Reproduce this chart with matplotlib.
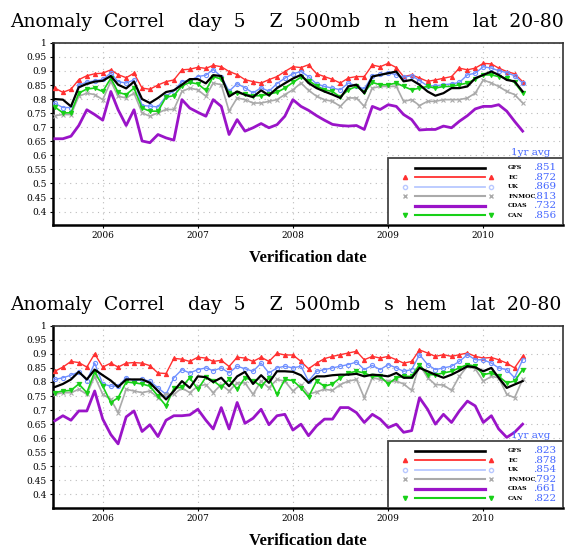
#   Correlacion de anomalias, dia 5, Z 500mb
#   hemisferio norte y sur, lat 20-80
#
import numpy as np
import pandas as pd
import matplotlib
matplotlib.use('Agg')
import matplotlib.pyplot as plt
import matplotlib.dates as mdates

# Fechas de verificacion (mensual, jul 2005 - jun 2010)
fechas = pd.date_range('2005-07-01', periods=60, freq='MS')

modelos = ['GFS', 'EC', 'UK', 'FNMOC', 'CDAS', 'CAN']

# Hemisferio norte
nh_gfs = [0.800, 0.798, 0.774, 0.842, 0.854, 0.862, 0.865, 0.882, 0.851, 0.838,
          0.862, 0.800, 0.786, 0.804, 0.825, 0.831, 0.851, 0.871, 0.871, 0.856,
          0.885, 0.882, 0.809, 0.827, 0.815, 0.807, 0.831, 0.813, 0.839, 0.856,
          0.873, 0.886, 0.857, 0.839, 0.827, 0.816, 0.804, 0.845, 0.851, 0.821,
          0.880, 0.886, 0.892, 0.898, 0.863, 0.868, 0.851, 0.827, 0.812, 0.821,
          0.839, 0.839, 0.845, 0.874, 0.886, 0.898, 0.886, 0.868, 0.863, 0.827]
nh_ec = [0.839, 0.824, 0.835, 0.869, 0.883, 0.890, 0.892, 0.904, 0.887, 0.876,
         0.892, 0.839, 0.835, 0.850, 0.862, 0.868, 0.904, 0.906, 0.913, 0.909,
         0.920, 0.915, 0.898, 0.887, 0.869, 0.862, 0.857, 0.869, 0.880, 0.898,
         0.915, 0.912, 0.922, 0.890, 0.880, 0.870, 0.857, 0.875, 0.880, 0.880,
         0.921, 0.915, 0.927, 0.912, 0.880, 0.886, 0.875, 0.863, 0.868, 0.874,
         0.880, 0.910, 0.904, 0.910, 0.927, 0.925, 0.910, 0.898, 0.890, 0.862]
nh_uk = [0.785, 0.770, 0.770, 0.850, 0.860, 0.865, 0.870, 0.893, 0.862, 0.857,
         0.868, 0.777, 0.775, 0.772, 0.810, 0.830, 0.862, 0.866, 0.880, 0.885,
         0.905, 0.880, 0.828, 0.855, 0.840, 0.822, 0.840, 0.828, 0.855, 0.874,
         0.890, 0.898, 0.880, 0.854, 0.845, 0.839, 0.833, 0.857, 0.847, 0.836,
         0.883, 0.888, 0.894, 0.886, 0.878, 0.883, 0.866, 0.847, 0.847, 0.851,
         0.854, 0.859, 0.886, 0.892, 0.915, 0.910, 0.901, 0.894, 0.883, 0.857]
nh_fnmoc = [0.741, 0.745, 0.745, 0.810, 0.821, 0.816, 0.798, 0.863, 0.810, 0.804,
            0.821, 0.751, 0.739, 0.751, 0.763, 0.763, 0.827, 0.839, 0.833, 0.810,
            0.857, 0.851, 0.757, 0.804, 0.798, 0.786, 0.786, 0.792, 0.798, 0.816,
            0.833, 0.857, 0.831, 0.810, 0.798, 0.792, 0.774, 0.804, 0.804, 0.774,
            0.839, 0.845, 0.845, 0.845, 0.792, 0.798, 0.777, 0.792, 0.792, 0.798,
            0.798, 0.798, 0.804, 0.821, 0.868, 0.857, 0.845, 0.827, 0.816, 0.786]
nh_cdas = [0.659, 0.659, 0.668, 0.706, 0.762, 0.745, 0.725, 0.827, 0.762, 0.706,
           0.762, 0.651, 0.645, 0.674, 0.662, 0.654, 0.798, 0.768, 0.753, 0.739,
           0.798, 0.774, 0.674, 0.727, 0.686, 0.698, 0.713, 0.698, 0.709, 0.739,
           0.798, 0.774, 0.760, 0.741, 0.725, 0.710, 0.706, 0.704, 0.706, 0.692,
           0.774, 0.763, 0.780, 0.774, 0.745, 0.727, 0.690, 0.692, 0.692, 0.704,
           0.698, 0.721, 0.741, 0.765, 0.774, 0.774, 0.780, 0.757, 0.721, 0.686]
nh_can = [0.772, 0.751, 0.751, 0.821, 0.836, 0.839, 0.827, 0.874, 0.824, 0.816,
          0.839, 0.768, 0.757, 0.757, 0.807, 0.812, 0.847, 0.859, 0.854, 0.831,
          0.880, 0.871, 0.821, 0.821, 0.818, 0.812, 0.812, 0.818, 0.824, 0.839,
          0.859, 0.878, 0.866, 0.847, 0.833, 0.827, 0.807, 0.833, 0.845, 0.824,
          0.859, 0.851, 0.851, 0.857, 0.845, 0.833, 0.839, 0.845, 0.839, 0.845,
          0.845, 0.851, 0.857, 0.871, 0.886, 0.886, 0.880, 0.874, 0.859, 0.821]
nh_prom = ['.851', '.872', '.869', '.813', '.732', '.856']

# Hemisferio sur
sh_gfs = [0.782, 0.793, 0.809, 0.836, 0.809, 0.844, 0.824, 0.805, 0.782, 0.809,
          0.809, 0.809, 0.797, 0.768, 0.738, 0.768, 0.803, 0.779, 0.820, 0.817,
          0.800, 0.815, 0.785, 0.820, 0.836, 0.793, 0.824, 0.797, 0.838, 0.838,
          0.836, 0.824, 0.797, 0.820, 0.820, 0.824, 0.826, 0.826, 0.829, 0.820,
          0.826, 0.824, 0.820, 0.832, 0.815, 0.815, 0.850, 0.838, 0.826, 0.815,
          0.826, 0.840, 0.856, 0.852, 0.838, 0.850, 0.815, 0.779, 0.791, 0.803]
sh_ec = [0.838, 0.853, 0.873, 0.869, 0.853, 0.900, 0.853, 0.867, 0.853, 0.867,
         0.869, 0.867, 0.858, 0.832, 0.830, 0.884, 0.881, 0.873, 0.888, 0.885,
         0.873, 0.877, 0.855, 0.888, 0.885, 0.873, 0.888, 0.873, 0.902, 0.896,
         0.896, 0.873, 0.847, 0.867, 0.883, 0.891, 0.897, 0.903, 0.909, 0.879,
         0.891, 0.885, 0.891, 0.879, 0.867, 0.873, 0.914, 0.903, 0.891, 0.897,
         0.891, 0.897, 0.903, 0.891, 0.885, 0.887, 0.879, 0.867, 0.850, 0.891]
sh_uk = [0.809, 0.815, 0.824, 0.836, 0.805, 0.867, 0.793, 0.785, 0.785, 0.815,
         0.805, 0.809, 0.803, 0.779, 0.756, 0.815, 0.844, 0.832, 0.844, 0.850,
         0.840, 0.850, 0.832, 0.856, 0.847, 0.838, 0.867, 0.832, 0.850, 0.856,
         0.850, 0.856, 0.803, 0.838, 0.844, 0.850, 0.856, 0.862, 0.871, 0.844,
         0.859, 0.844, 0.862, 0.850, 0.838, 0.844, 0.897, 0.862, 0.844, 0.850,
         0.856, 0.873, 0.897, 0.879, 0.879, 0.867, 0.850, 0.844, 0.815, 0.879]
sh_fnmoc = [0.756, 0.762, 0.762, 0.774, 0.756, 0.820, 0.756, 0.738, 0.691, 0.774,
            0.768, 0.762, 0.768, 0.744, 0.756, 0.756, 0.779, 0.762, 0.785, 0.791,
            0.762, 0.791, 0.768, 0.797, 0.797, 0.756, 0.803, 0.779, 0.809, 0.803,
            0.768, 0.791, 0.756, 0.765, 0.774, 0.770, 0.791, 0.803, 0.809, 0.744,
            0.815, 0.809, 0.803, 0.803, 0.793, 0.770, 0.862, 0.815, 0.791, 0.789,
            0.770, 0.820, 0.856, 0.847, 0.803, 0.820, 0.815, 0.756, 0.744, 0.809]
sh_cdas = [0.662, 0.680, 0.664, 0.697, 0.697, 0.768, 0.668, 0.613, 0.580, 0.676,
           0.697, 0.624, 0.648, 0.606, 0.664, 0.680, 0.680, 0.683, 0.703, 0.664,
           0.633, 0.709, 0.633, 0.727, 0.653, 0.671, 0.703, 0.648, 0.680, 0.685,
           0.629, 0.650, 0.609, 0.644, 0.668, 0.668, 0.709, 0.709, 0.691, 0.656,
           0.685, 0.668, 0.638, 0.650, 0.621, 0.627, 0.744, 0.703, 0.650, 0.685,
           0.656, 0.697, 0.732, 0.715, 0.656, 0.680, 0.633, 0.603, 0.621, 0.650]
sh_can = [0.762, 0.768, 0.770, 0.793, 0.762, 0.836, 0.785, 0.727, 0.744, 0.800,
          0.797, 0.793, 0.785, 0.750, 0.715, 0.777, 0.782, 0.815, 0.774, 0.817,
          0.805, 0.782, 0.809, 0.774, 0.815, 0.805, 0.785, 0.815, 0.756, 0.809,
          0.805, 0.779, 0.747, 0.803, 0.785, 0.793, 0.815, 0.832, 0.838, 0.832,
          0.820, 0.820, 0.793, 0.815, 0.820, 0.820, 0.862, 0.826, 0.826, 0.832,
          0.838, 0.850, 0.862, 0.856, 0.826, 0.832, 0.820, 0.797, 0.803, 0.844]
sh_prom = ['.823', '.878', '.854', '.792', '.661', '.822']

# Estilo de cada modelo
lineas = ['black', '#ff3030', '#7090ff', '#aaaaaa', '#9a14c8', '#18d018']
marcas = ['', '^', 'o', 'x', '', 'v']
grosor = [1.6, 1.0, 1.0, 1.2, 2.0, 1.2]
leyenda_col = ['black', '#ff3030', '#b8c8ff', '#aaaaaa', '#9a14c8', '#18d018']

fuente = 'DejaVu Serif'

fig = plt.figure(figsize=(5.76, 5.49), dpi=100)

paneles = [
    ('n', [nh_gfs, nh_ec, nh_uk, nh_fnmoc, nh_cdas, nh_can], nh_prom, 0.590),
    ('s', [sh_gfs, sh_ec, sh_uk, sh_fnmoc, sh_cdas, sh_can], sh_prom, 0.0747),
]

for hem, series, prom, abajo in paneles:
    ax = fig.add_axes([0.092, abajo, 0.885, 0.332])

    for k in range(len(modelos)):
        mk = marcas[k]
        ax.plot(fechas, series[k], color=lineas[k], lw=grosor[k],
                marker=mk if mk else None, ms=3.0,
                mfc='none' if mk == 'o' else lineas[k], mew=0.8, zorder=3 + (k == 0))

    ax.set_xlim(pd.Timestamp('2005-06-24'), pd.Timestamp('2010-11-02'))
    ax.set_ylim(0.352, 1.0)
    ax.set_yticks(np.arange(0.4, 1.001, 0.05))
    ax.yaxis.set_major_formatter(plt.FuncFormatter(lambda v, p: '%g' % round(v, 2)))
    ax.xaxis.set_major_locator(mdates.YearLocator())
    ax.xaxis.set_major_formatter(mdates.DateFormatter('%Y'))
    ax.tick_params(labelsize=6.5, length=2.5, width=0.8, pad=2)
    for lab in ax.get_xticklabels() + ax.get_yticklabels():
        lab.set_family(fuente)
    ax.grid(True, color='#bbbbbb', linestyle=(0, (1, 4)), linewidth=0.8)

    for lado in ['left', 'bottom']:
        ax.spines[lado].set_linewidth(1.8)
    for lado in ['top', 'right']:
        ax.spines[lado].set_linewidth(1.2)
        ax.spines[lado].set_color('#333333')

    ax.set_xlabel('Verification date', family='Liberation Serif',
                  fontweight='bold', fontsize=12, labelpad=7)

    # cuadro de leyenda con promedio del ultimo ano
    caja = plt.Rectangle((0.657, 0.0), 0.343, 0.3675, transform=ax.transAxes,
                         facecolor='white', edgecolor='#444444', lw=1.3, zorder=5)
    ax.add_patch(caja)
    ax.text(0.975, 0.375, '1yr avg', transform=ax.transAxes, color='#4466ff',
            fontsize=7.5, ha='right', va='bottom', family=fuente, zorder=6)
    for k in range(len(modelos)):
        yk = 0.314 - 0.052 * k
        ax.plot([0.710, 0.847], [yk, yk], transform=ax.transAxes,
                color=leyenda_col[k], lw=grosor[k] + 0.3, zorder=6)
        if marcas[k]:
            ax.plot([0.690, 0.859], [yk, yk], transform=ax.transAxes, ls='none',
                    marker=marcas[k], ms=3, color=leyenda_col[k],
                    mfc='none' if marcas[k] == 'o' else leyenda_col[k], zorder=6)
        ax.text(0.893, yk, modelos[k], transform=ax.transAxes, fontsize=4.5,
                fontweight='bold', va='center', family=fuente, zorder=6)
        ax.text(0.988, yk, prom[k], transform=ax.transAxes, fontsize=7.5,
                color='#4466ff', ha='right', va='center', family=fuente, zorder=6)

    titulo = ('Anomaly  Correl    day  5    Z  500mb    ' + hem +
              '  hem    lat  20-80')
    fig.text(0.017, abajo + 0.332 + 0.022, titulo,
             fontsize=13.5, family=fuente, va='bottom', ha='left')

fig.savefig('out.png', dpi=100)
